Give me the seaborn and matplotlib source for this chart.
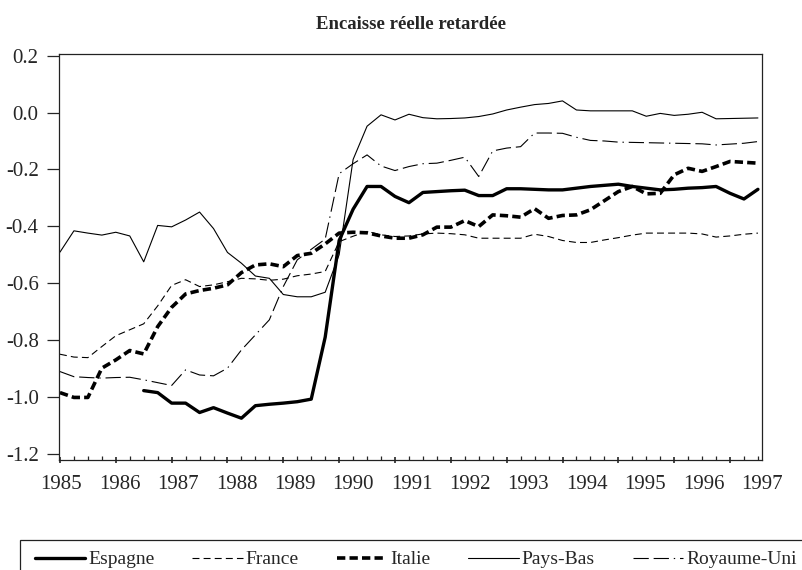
import numpy as np
import pandas as pd
import seaborn as sns
import matplotlib.pyplot as plt
from matplotlib.patches import Rectangle

# quarterly observations 1985Q1 .. 1997Q3
quarters = pd.period_range("1985Q1", "1997Q3", freq="Q")

espagne = [np.nan, np.nan, np.nan, np.nan, np.nan, np.nan,
           -0.978, -0.985, -1.022, -1.022, -1.055, -1.038, -1.057, -1.075,
           -1.031, -1.026, -1.022, -1.017, -1.008, -0.790, -0.450, -0.340,
           -0.260, -0.260, -0.295, -0.317, -0.281, -0.278, -0.275, -0.273,
           -0.292, -0.292, -0.268, -0.268, -0.270, -0.272, -0.272, -0.266,
           -0.260, -0.256, -0.252, -0.260, -0.266, -0.272, -0.270, -0.266,
           -0.264, -0.260, -0.284, -0.304, -0.270]
france = [-0.850, -0.860, -0.862, -0.823, -0.785, -0.764, -0.743, -0.680,
          -0.608, -0.588, -0.612, -0.606, -0.595, -0.583, -0.585, -0.590,
          -0.586, -0.574, -0.568, -0.559, -0.454, -0.435, -0.418, -0.430,
          -0.436, -0.434, -0.427, -0.424, -0.426, -0.430, -0.442, -0.442,
          -0.442, -0.442, -0.428, -0.436, -0.450, -0.457, -0.457, -0.448,
          -0.440, -0.431, -0.424, -0.424, -0.424, -0.424, -0.427, -0.438,
          -0.434, -0.428, -0.424]
italie = [-0.985, -1.002, -1.002, -0.899, -0.870, -0.837, -0.849, -0.753,
          -0.685, -0.638, -0.626, -0.618, -0.606, -0.563, -0.536, -0.532,
          -0.542, -0.503, -0.495, -0.462, -0.424, -0.421, -0.423, -0.434,
          -0.442, -0.442, -0.430, -0.403, -0.403, -0.380, -0.401, -0.360,
          -0.363, -0.368, -0.338, -0.372, -0.362, -0.360, -0.342, -0.310,
          -0.278, -0.260, -0.286, -0.284, -0.219, -0.196, -0.207, -0.190,
          -0.172, -0.175, -0.178]
pays_bas = [-0.491, -0.416, -0.424, -0.431, -0.421, -0.434, -0.525, -0.397,
            -0.402, -0.378, -0.350, -0.408, -0.492, -0.530, -0.575, -0.583,
            -0.640, -0.648, -0.648, -0.632, -0.500, -0.165, -0.048, -0.008,
            -0.026, -0.006, -0.018, -0.022, -0.021, -0.019, -0.014, -0.005,
            0.009, 0.019, 0.028, 0.032, 0.041, 0.009, 0.006, 0.006,
            0.006, 0.006, -0.013, -0.003, -0.010, -0.006, 0.001, -0.022,
            -0.021, -0.020, -0.019]
royaume_uni = [-0.911, -0.929, -0.932, -0.934, -0.932, -0.931, -0.940, -0.950,
               -0.960, -0.905, -0.923, -0.926, -0.899, -0.835, -0.782, -0.729,
               -0.612, -0.518, -0.481, -0.445, -0.215, -0.180, -0.149, -0.188,
               -0.204, -0.190, -0.180, -0.178, -0.168, -0.157, -0.225, -0.135,
               -0.125, -0.120, -0.072, -0.072, -0.073, -0.087, -0.098, -0.100,
               -0.104, -0.105, -0.106, -0.107, -0.108, -0.109, -0.110, -0.114,
               -0.111, -0.108, -0.102]

countries = ["Espagne", "France", "Italie", "Pays-Bas", "Royaume-Uni"]
years = list(range(1985, 1998))
year_labels = [str(y) for y in years]

sns.set_style("ticks")
plt.rcParams["font.family"] = ["Liberation Serif", "DejaVu Serif"]
plt.rcParams["lines.scale_dashes"] = False

t = quarters.year + (quarters.quarter - 1) / 4
df = pd.DataFrame({"t": t, "Espagne": espagne, "France": france, "Italie": italie,
                   "Pays-Bas": pays_bas, "Royaume-Uni": royaume_uni})
long = df.melt(id_vars="t", var_name="pays", value_name="valeur").dropna()

dashes = {"Espagne": "", "France": (5, 3), "Italie": (6, 3), "Pays-Bas": "",
          "Royaume-Uni": (11, 3.5, 11, 3.5, 1, 3.5)}
widths = {"Espagne": 2.4, "France": 0.8, "Italie": 2.6, "Pays-Bas": 0.8,
          "Royaume-Uni": 0.8}

fig = plt.figure(figsize=(8.03, 5.70), dpi=100)
ax = fig.add_axes([0.0738, 0.193, 0.9493 - 0.0738, 0.9053 - 0.193])

sns.lineplot(data=long, x="t", y="valeur", hue="pays", style="pays", size="pays",
             hue_order=countries, style_order=countries, size_order=countries,
             palette={c: "black" for c in countries}, dashes=dashes, sizes=widths,
             ax=ax)

ax.set_xlim(1984.9875, 1997.578)
ax.set_ylim(-1.222, 0.206)
ax.set_xlabel("")
ax.set_ylabel("")
ax.set_title("Encaisse réelle retardée", fontweight="bold", fontsize=13.5, pad=18)

ax.set_yticks([0.2, 0.0, -0.2, -0.4, -0.6, -0.8, -1.0, -1.2])
ax.set_yticklabels(["0.2", "0.0", "-0.2", "-0.4", "-0.6", "-0.8", "-1.0", "-1.2"])
ax.tick_params(axis="y", direction="out", length=8.3, width=0.9, pad=6.5,
               labelsize=15, right=False)

ax.set_xticks(years)
ax.set_xticks(t, minor=True)
ax.tick_params(axis="x", which="major", direction="inout", length=5, width=1.2,
               labelbottom=False, top=False)
ax.tick_params(axis="x", which="minor", direction="in", length=3, width=0.9, top=False)

for side in ["top", "right", "bottom", "left"]:
    ax.spines[side].set_visible(True)
    ax.spines[side].set_linewidth(0.9)
    ax.spines[side].set_color("#222222")

# EViews-style year labels, spread along the full axis
label_pos = [1985.025 + (y - 1985) * 1.0455 for y in years]
sec = ax.secondary_xaxis("bottom")
sec.set_xticks(label_pos, labels=year_labels)
sec.tick_params(length=0, pad=11, labelsize=15)
sec.spines["bottom"].set_visible(False)

handles, labels = ax.get_legend_handles_labels()
ax.get_legend().remove()
fig.legend(handles, labels, loc="upper left",
           bbox_to_anchor=(24 / 803, 1 - 540 / 570), ncol=5,
           fontsize=14, handlelength=2.6, handletextpad=0.15,
           columnspacing=1.95, borderpad=0.55, frameon=False, borderaxespad=0)
# legend box running off the right and bottom edges, as in the source
fig.patches.append(Rectangle((20 / 803, -0.05), 1.0, 0.05 + 30 / 570,
                             transform=fig.transFigure, fill=False,
                             edgecolor="#222222", linewidth=0.9))

fig.savefig("out.png", dpi=100)
